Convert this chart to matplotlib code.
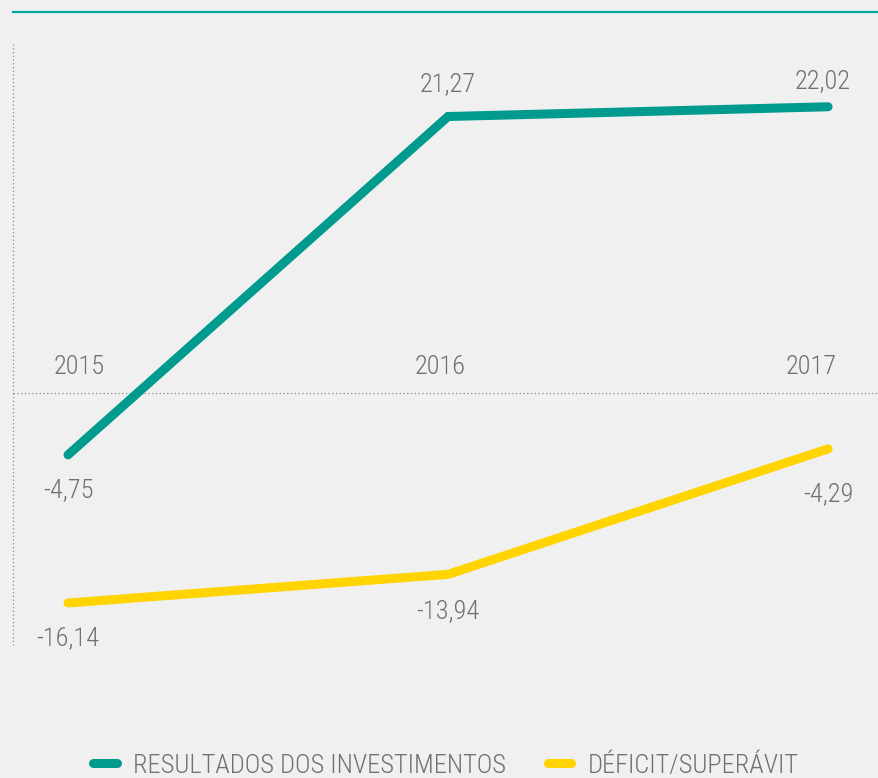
import matplotlib
matplotlib.use('Agg')
import matplotlib.pyplot as plt

years = [2015, 2016, 2017]
year_labels = ['2015', '2016', '2017']
investimentos = [-4.75, 21.27, 22.02]
deficit = [-16.14, -13.94, -4.29]

BG = '#f0f0f0'
TEAL = '#009b8e'
YELLOW = '#ffd400'
TXT = '#707070'

plt.rcParams['font.family'] = ['Roboto Condensed', 'Noto Sans', 'DejaVu Sans']
plt.rcParams['font.stretch'] = 'condensed'
plt.rcParams['font.weight'] = 'light'

fig = plt.figure(figsize=(8.79, 7.78), dpi=100)
fig.patch.set_facecolor(BG)
ax = fig.add_axes([0, 0, 1, 1])
ax.set_facecolor(BG)
ax.set_xlim(2014.821, 2017.134)
ax.set_ylim(-29.6, 30.23)
ax.axis('off')

# frame lines
ax.plot([13 / 879, 1], [1 - 12 / 778] * 2, transform=ax.transAxes, color='#00a89d', lw=1.6)
ax.plot([13 / 879] * 2, [1 - 44 / 778, 1 - 645 / 778], transform=ax.transAxes,
        color='#8a8a8a', lw=0.9, ls=(0, (1, 2)))
ax.plot([13 / 879, 1], [0, 0], transform=ax.get_yaxis_transform(),
        color='#8a8a8a', lw=0.9, ls=(0, (1, 2)))

l1, = ax.plot(years, investimentos, color=TEAL, lw=6.5, solid_capstyle='round',
              solid_joinstyle='miter', label='RESULTADOS DOS INVESTIMENTOS')
l2, = ax.plot(years, deficit, color=YELLOW, lw=6.5, solid_capstyle='round',
              solid_joinstyle='miter', label='DÉFICIT/SUPERÁVIT')

def fmt(v):
    return f'{v:.2f}'.replace('.', ',')

inv_off = [(0, -35), (0, 32), (-5, 26)]
for x, v, (dx, dy) in zip(years, investimentos, inv_off):
    ax.annotate(fmt(v), (x, v), xytext=(dx, dy), textcoords='offset pixels',
                ha='center', va='center', fontsize=19, color=TXT)
def_off = [(0, -35), (0, -37), (0, -45)]
for x, v, (dx, dy) in zip(years, deficit, def_off):
    ax.annotate(fmt(v), (x, v), xytext=(dx, dy), textcoords='offset pixels',
                ha='center', va='center', fontsize=19, color=TXT)

year_dx = [11, -8, -17]
for x, lab, dx in zip(years, year_labels, year_dx):
    ax.annotate(lab, (x, 0), xytext=(dx, 26), textcoords='offset pixels',
                ha='center', va='center', fontsize=19, color=TXT)

leg = fig.legend(handles=[l1, l2], loc='lower center', bbox_to_anchor=(0.507, -0.03),
                 ncol=2, frameon=False, fontsize=19, handlelength=0.9,
                 handletextpad=0.61, columnspacing=1.58, labelcolor=TXT)

plt.savefig('out.png', dpi=100, facecolor=BG)
